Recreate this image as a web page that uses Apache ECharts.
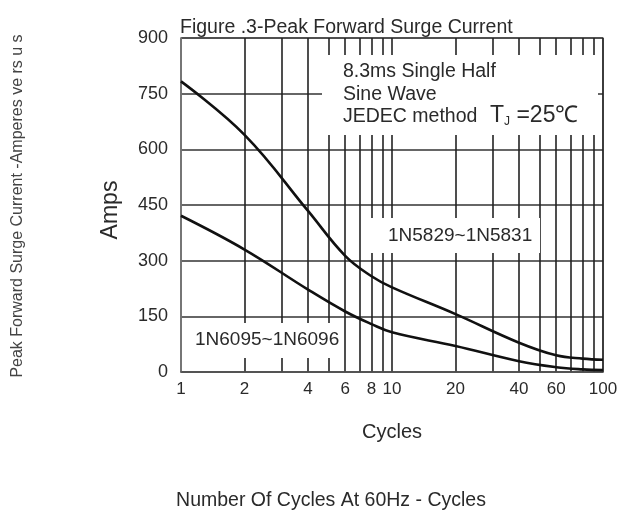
<!DOCTYPE html>
<html><head><meta charset="utf-8">
<script src="https://cdn.jsdelivr.net/npm/echarts@6/dist/echarts.min.js"></script>
<style>html,body{margin:0;padding:0;background:#fff}#c{width:629px;height:510px}</style>
</head><body><div id="c"></div>
<script>
// Data at the labelled grid lines (cycles vs peak forward surge current, amps)
const cycles = [1, 2, 4, 6, 8, 10, 20, 40, 60, 80, 100];
const amps1N5829 = [783, 639, 434, 313, 258, 228, 156, 79, 45, 36, 33];
const amps1N6095 = [421, 330, 222, 163, 129, 107, 70, 29, 13, 7, 5];
const xGridValues = [1, 2, 3, 4, 5, 6, 7, 8, 9, 10, 20, 30, 40, 50, 60, 70, 80, 90, 100];
const xTickLabels = [1, 2, 4, 6, 8, 10, 20, 40, 60, 80, 100];

const FONT = 'Liberation Sans, Arial, sans-serif';
const TXT = '#2a2a2a';
const chart = echarts.init(document.getElementById('c'), null, {renderer: 'canvas'});

function pairs(ys) { return cycles.map((c, i) => [c, ys[i]]); }

const lineStyle = {color: '#111', width: 2.6};

chart.setOption({
  backgroundColor: '#fff',
  animation: false,
  grid: {left: 181, right: 26, top: 38, bottom: 138, show: true, borderColor: '#8a8a8a', borderWidth: 1.5},
  xAxis: {
    type: 'log', logBase: 10, min: 1, max: 100,
    axisLine: {show: true, lineStyle: {color: '#555', width: 1.5}},
    axisTick: {show: false, customValues: xGridValues},
    splitLine: {show: true, lineStyle: {color: '#222', width: 1.6}},
    axisLabel: {customValues: xTickLabels, color: TXT, fontFamily: FONT, fontSize: 17, margin: 9,
      hideOverlap: false, showMinLabel: true, showMaxLabel: true}
  },
  yAxis: {
    type: 'value', min: 0, max: 900, interval: 150,
    axisLine: {show: true, lineStyle: {color: '#8a8a8a', width: 1.5}},
    axisTick: {show: false},
    splitLine: {show: true, lineStyle: {color: '#333', width: 1.6}},
    axisLabel: {color: TXT, fontFamily: FONT, fontSize: 18, margin: 13}
  },
  series: [
    {type: 'line', name: '1N5829~1N5831', data: pairs(amps1N5829), smooth: 0.4, showSymbol: false, lineStyle: lineStyle, z: 5},
    {type: 'line', name: '1N6095~1N6096', data: pairs(amps1N6095), smooth: 0.4, showSymbol: false, lineStyle: lineStyle, z: 5}
  ],
  graphic: [
    {type: 'text', x: 180, y: 28, z: 3, style: {text: 'Figure .3-Peak Forward Surge Current', fill: TXT, font: '19.5px ' + FONT, verticalAlign: 'middle'}},
    {type: 'rect', shape: {x: 322, y: 55, width: 276, height: 80}, style: {fill: '#fff'}, z: 1},
    {type: 'text', x: 343, y: 72, z: 3, style: {text: '8.3ms Single Half', fill: TXT, font: '19.5px ' + FONT, verticalAlign: 'middle'}},
    {type: 'text', x: 343, y: 95, z: 3, style: {text: 'Sine Wave', fill: TXT, font: '19.5px ' + FONT, verticalAlign: 'middle'}},
    {type: 'text', x: 343, y: 117, z: 3, style: {text: 'JEDEC method', fill: TXT, font: '19.5px ' + FONT, verticalAlign: 'middle'}},
    {type: 'text', x: 490, y: 104, z: 3, style: {
      text: '{t|T}{s|J}{t| =25℃}', fill: TXT,
      rich: {t: {font: '23px ' + FONT, fill: TXT}, s: {font: '12px ' + FONT, fill: TXT, padding: [12, 0, 0, 0]}}
    }},
    {type: 'rect', shape: {x: 362, y: 218, width: 178, height: 35}, style: {fill: '#fff'}, z: 1},
    {type: 'text', x: 388, y: 236, z: 3, style: {text: '1N5829~1N5831', fill: TXT, font: '19px ' + FONT, verticalAlign: 'middle'}},
    {type: 'rect', shape: {x: 183, y: 323, width: 154, height: 35}, style: {fill: '#fff'}, z: 1},
    {type: 'text', x: 195, y: 340, z: 3, style: {text: '1N6095~1N6096', fill: TXT, font: '19px ' + FONT, verticalAlign: 'middle'}},
    {type: 'text', x: 111, y: 210, rotation: Math.PI / 2, z: 3, style: {text: 'Amps', fill: TXT, font: '23px ' + FONT, align: 'center', verticalAlign: 'middle'}},
    {type: 'text', x: 392, y: 432, z: 3, style: {text: 'Cycles', fill: TXT, font: '20px ' + FONT, align: 'center', verticalAlign: 'middle'}},
    {type: 'text', x: 331, y: 501, z: 3, style: {text: 'Number Of Cycles At 60Hz - Cycles', fill: TXT, font: '19.5px ' + FONT, align: 'center', verticalAlign: 'middle'}},
    {type: 'text', x: 18, y: 206, rotation: Math.PI / 2, z: 3, style: {text: 'Peak Forward Surge Current -Amperes ve rs u s', fill: '#444', font: '16px ' + FONT, align: 'center', verticalAlign: 'middle'}}
  ]
});
</script>
</body></html>
